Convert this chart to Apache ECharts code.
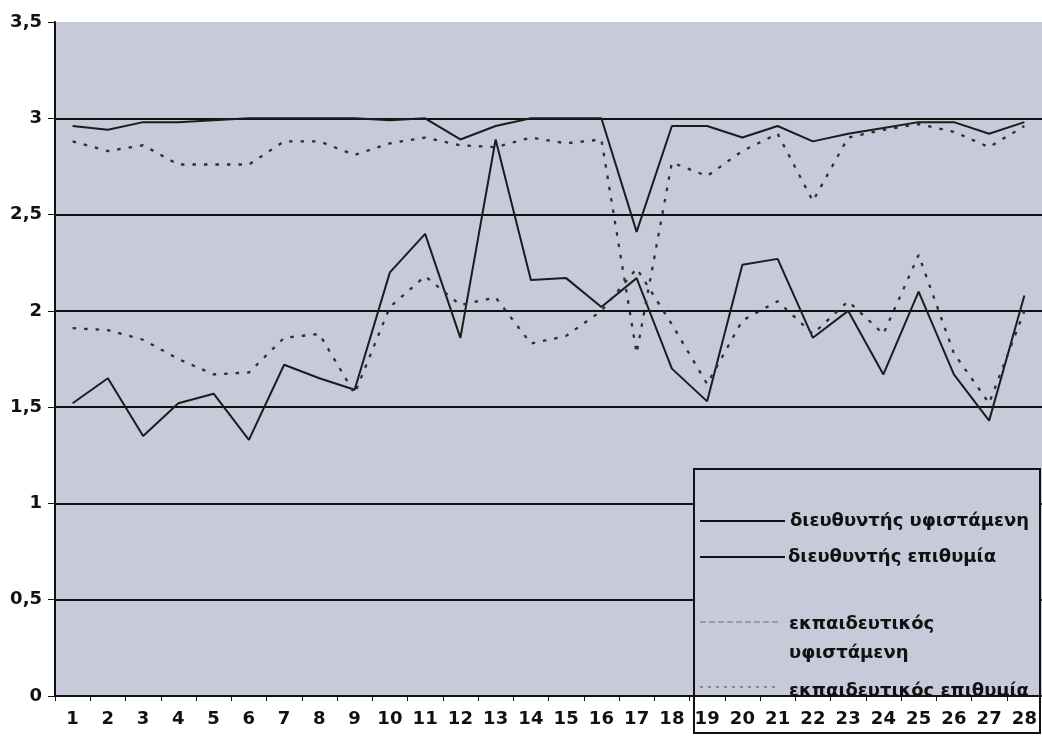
<!DOCTYPE html>
<html>
<head>
<meta charset="utf-8">
<script src="https://cdn.jsdelivr.net/npm/echarts@6/dist/echarts.min.js"></script>
<style>
html,body{margin:0;padding:0;background:#fff;}
#c{width:1042px;height:737px;}
</style>
</head>
<body>
<div id="c"></div>
<script>
const categories = ['1','2','3','4','5','6','7','8','9','10','11','12','13','14','15','16','17','18','19','20','21','22','23','24','25','26','27','28'];
const seriesNames = ['διευθυντής υφιστάμενη','διευθυντής επιθυμία','εκπαιδευτικός υφιστάμενη','εκπαιδευτικός επιθυμία'];
const dirCurrent = [1.52,1.65,1.35,1.52,1.57,1.33,1.72,1.65,1.59,2.20,2.40,1.86,2.89,2.16,2.17,2.02,2.17,1.70,1.53,2.24,2.27,1.86,2.00,1.67,2.10,1.67,1.43,2.08];
const dirDesired = [2.96,2.94,2.98,2.98,2.99,3.00,3.00,3.00,3.00,2.99,3.00,2.89,2.96,3.00,3.00,3.00,2.41,2.96,2.96,2.90,2.96,2.88,2.92,2.95,2.98,2.98,2.92,2.98];
const teachCurrent = [1.91,1.90,1.85,1.75,1.67,1.68,1.86,1.88,1.57,2.02,2.18,2.03,2.07,1.83,1.87,2.00,2.22,1.93,1.62,1.95,2.05,1.88,2.05,1.88,2.29,1.78,1.52,2.00];
const teachDesired = [2.88,2.83,2.86,2.76,2.76,2.76,2.88,2.88,2.81,2.87,2.90,2.86,2.85,2.90,2.87,2.89,1.78,2.77,2.70,2.83,2.92,2.57,2.90,2.94,2.97,2.93,2.85,2.96];
const yTicks = {min: 0, max: 3.5, step: 0.5};

const FONT = '"DejaVu Sans", "Liberation Sans", Arial, sans-serif';
const PLOT_BG = '#c6cad9';
const chart = echarts.init(document.getElementById('c'), null, {renderer: 'canvas'});

const solid = (name, data) => ({
  name, type: 'line', data, symbol: 'none', smooth: false, z: 2,
  lineStyle: {color: '#1c1c1c', width: 2}
});
const dotted = (name, data) => ({
  name, type: 'line', data, symbol: 'none', smooth: false, z: 2,
  lineStyle: {color: '#2e2e36', width: 2.3, type: [3.5, 8]}
});

const legendText = (x, y, text) => ({
  type: 'text', z: 2, x, y,
  style: {text, fill: '#111', font: 'bold 18px ' + FONT, textVerticalAlign: 'middle', verticalAlign: 'middle'}
});

chart.setOption({
  backgroundColor: '#ffffff',
  animation: false,
  grid: {left: 55, right: 0, top: 22, bottom: 41, show: true, backgroundColor: PLOT_BG, borderWidth: 0},
  xAxis: {
    type: 'category', data: categories, boundaryGap: true, z: 5,
    axisLine: {show: true, lineStyle: {color: '#111', width: 2}},
    axisTick: {show: true, length: 5, lineStyle: {color: '#111', width: 1}},
    axisLabel: {interval: 0, margin: 14, color: '#111', fontFamily: FONT, fontWeight: 'bold', fontSize: 18},
    splitLine: {show: false}
  },
  yAxis: {
    type: 'value', min: yTicks.min, max: yTicks.max, interval: yTicks.step, z: 0,
    axisLine: {show: true, lineStyle: {color: '#111', width: 2}},
    axisTick: {show: true, length: 7, lineStyle: {color: '#111', width: 1}},
    axisLabel: {margin: 13, color: '#111', fontFamily: FONT, fontWeight: 'bold', fontSize: 18,
      formatter: v => String(v).replace('.', ',')},
    splitLine: {show: true, showMaxLine: false, lineStyle: {color: '#111', width: 2}}
  },
  series: [
    solid(seriesNames[0], dirCurrent),
    solid(seriesNames[1], dirDesired),
    dotted(seriesNames[2], teachCurrent),
    dotted(seriesNames[3], teachDesired)
  ],
  graphic: [
    {type: 'rect', z: 1, shape: {x: 694, y: 469, width: 346, height: 227}, style: {fill: PLOT_BG}},
    {type: 'line', z: 2, shape: {x1: 700, y1: 521, x2: 785, y2: 521}, style: {stroke: '#111', lineWidth: 2}},
    legendText(790, 521, seriesNames[0]),
    {type: 'line', z: 2, shape: {x1: 700, y1: 557, x2: 785, y2: 557}, style: {stroke: '#111', lineWidth: 2}},
    legendText(788, 557, seriesNames[1]),
    {type: 'line', z: 2, shape: {x1: 700, y1: 622, x2: 780, y2: 622}, style: {stroke: '#8c8e98', lineWidth: 1.5, lineDash: [6, 3]}},
    legendText(789, 624, 'εκπαιδευτικός'),
    legendText(789, 653, 'υφιστάμενη'),
    {type: 'line', z: 2, shape: {x1: 700, y1: 687, x2: 780, y2: 687}, style: {stroke: '#6c6e78', lineWidth: 1.5, lineDash: [3, 5]}},
    legendText(789, 691, seriesNames[3]),
    {type: 'rect', z: 3, shape: {x: 695, y: 697, width: 344, height: 36}, style: {fill: '#ffffff'}},
    {type: 'rect', z: 6, shape: {x: 694, y: 469, width: 346, height: 264}, style: {fill: null, stroke: '#111', lineWidth: 2}}
  ]
});
</script>
</body>
</html>
